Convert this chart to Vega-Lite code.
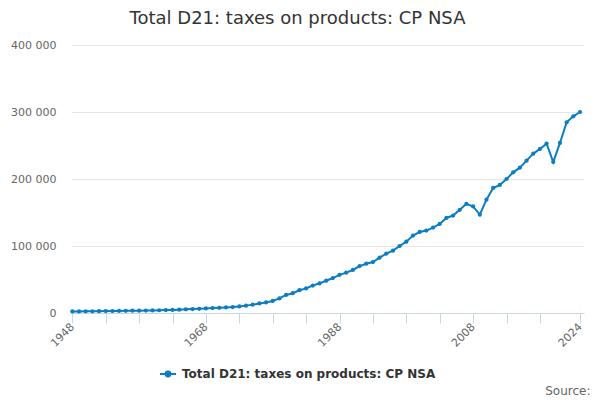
{
  "$schema": "https://vega.github.io/schema/vega-lite/v6.json",
  "autosize": "none",
  "width": 513,
  "height": 268,
  "padding": {"left": 71, "top": 45, "right": 16, "bottom": 87},
  "background": "white",
  "title": {
    "text": "Total D21: taxes on products: CP NSA",
    "font": "DejaVu Sans",
    "fontSize": 18,
    "fontWeight": "normal",
    "color": "#333333",
    "anchor": "middle",
    "dx": -30,
    "offset": 11
  },
  "config": {
    "view": {"stroke": null},
    "font": "DejaVu Sans",
    "legend": {
      "orient": "none",
      "legendX": 88,
      "legendY": 320,
      "direction": "horizontal",
      "title": null,
      "labelFont": "DejaVu Sans",
      "labelFontSize": 12,
      "labelFontWeight": "bold",
      "labelColor": "#333333",
      "labelOffset": 5,
      "labelLimit": 0,
      "symbolType": "M-1,0H1M-0.3,0A0.3,0.3 0 1,0 0.3,0A0.3,0.3 0 1,0 -0.3,0",
      "symbolSize": 256,
      "symbolStrokeWidth": 2,
      "symbolFillColor": "#0b7dc2"
    }
  },
  "data": {
    "values": [
      {"year": 1948, "value": 2300}, {"year": 1949, "value": 2400},
      {"year": 1950, "value": 2500}, {"year": 1951, "value": 2600},
      {"year": 1952, "value": 2700}, {"year": 1953, "value": 2800},
      {"year": 1954, "value": 2900}, {"year": 1955, "value": 3100},
      {"year": 1956, "value": 3200}, {"year": 1957, "value": 3400},
      {"year": 1958, "value": 3500}, {"year": 1959, "value": 3600},
      {"year": 1960, "value": 3800}, {"year": 1961, "value": 4100},
      {"year": 1962, "value": 4400}, {"year": 1963, "value": 4600},
      {"year": 1964, "value": 5000}, {"year": 1965, "value": 5500},
      {"year": 1966, "value": 5900}, {"year": 1967, "value": 6300},
      {"year": 1968, "value": 6800}, {"year": 1969, "value": 7400},
      {"year": 1970, "value": 7800}, {"year": 1971, "value": 8300},
      {"year": 1972, "value": 8900}, {"year": 1973, "value": 9800},
      {"year": 1974, "value": 11000}, {"year": 1975, "value": 12500},
      {"year": 1976, "value": 14200}, {"year": 1977, "value": 15800},
      {"year": 1978, "value": 18000}, {"year": 1979, "value": 21800},
      {"year": 1980, "value": 26900}, {"year": 1981, "value": 29500},
      {"year": 1982, "value": 34000}, {"year": 1983, "value": 36700},
      {"year": 1984, "value": 41000}, {"year": 1985, "value": 44200},
      {"year": 1986, "value": 48200}, {"year": 1987, "value": 52200},
      {"year": 1988, "value": 57000}, {"year": 1989, "value": 60200},
      {"year": 1990, "value": 64200}, {"year": 1991, "value": 70000},
      {"year": 1992, "value": 73600}, {"year": 1993, "value": 76100},
      {"year": 1994, "value": 82600}, {"year": 1995, "value": 88500},
      {"year": 1996, "value": 93000}, {"year": 1997, "value": 100000},
      {"year": 1998, "value": 106500}, {"year": 1999, "value": 115500},
      {"year": 2000, "value": 121000}, {"year": 2001, "value": 123000},
      {"year": 2002, "value": 127500}, {"year": 2003, "value": 133000},
      {"year": 2004, "value": 141800}, {"year": 2005, "value": 145500},
      {"year": 2006, "value": 154000}, {"year": 2007, "value": 163000},
      {"year": 2008, "value": 159000}, {"year": 2009, "value": 146800},
      {"year": 2010, "value": 169200}, {"year": 2011, "value": 186600},
      {"year": 2012, "value": 191100}, {"year": 2013, "value": 200000},
      {"year": 2014, "value": 209900}, {"year": 2015, "value": 216900},
      {"year": 2016, "value": 227400}, {"year": 2017, "value": 237800},
      {"year": 2018, "value": 244900}, {"year": 2019, "value": 252800},
      {"year": 2020, "value": 225400}, {"year": 2021, "value": 253800},
      {"year": 2022, "value": 284600}, {"year": 2023, "value": 293500},
      {"year": 2024, "value": 300000}
    ]
  },
  "mark": {
    "type": "line",
    "strokeWidth": 2,
    "point": {"filled": true, "size": 18},
    "clip": false
  },
  "encoding": {
    "x": {
      "field": "year",
      "type": "quantitative",
      "scale": {"domain": [1947.8, 2024.6], "nice": false, "zero": false},
      "axis": {
        "values": [1948, 1953, 1958, 1963, 1968, 1973, 1978, 1983, 1988, 1993, 1998, 2003, 2008, 2013, 2018, 2024],
        "labelExpr": "indexof([1948, 1968, 1988, 2008, 2024], datum.value) >= 0 ? '' + datum.value : ''",
        "labelAngle": -45,
        "labelAlign": "right",
        "labelBaseline": "middle",
        "labelFontSize": 11,
        "labelColor": "#666666",
        "labelPadding": 2,
        "labelFlush": false,
        "labelOverlap": false,
        "grid": false,
        "domainColor": "#ccd6eb",
        "tickColor": "#ccd6eb",
        "tickSize": 10,
        "title": "Source:",
        "titleFont": "DejaVu Sans",
        "titleFontSize": 12,
        "titleFontWeight": "normal",
        "titleColor": "#666666",
        "titleAnchor": "end",
        "titleAlign": "right",
        "titleBaseline": "middle",
        "titleX": 519,
        "titleY": 77
      }
    },
    "y": {
      "field": "value",
      "type": "quantitative",
      "scale": {"domain": [0, 400000], "nice": false},
      "axis": {
        "values": [0, 100000, 200000, 300000, 400000],
        "labelExpr": "replace(format(datum.value, ','), /,/g, ' ')",
        "labelFontSize": 11,
        "labelColor": "#666666",
        "labelPadding": 15,
        "domain": false,
        "ticks": false,
        "gridColor": "#e6e6e6",
        "title": null
      }
    },
    "color": {
      "datum": "Total D21: taxes on products: CP NSA",
      "type": "nominal",
      "scale": {"range": ["#0b7dc2"]}
    }
  }
}
